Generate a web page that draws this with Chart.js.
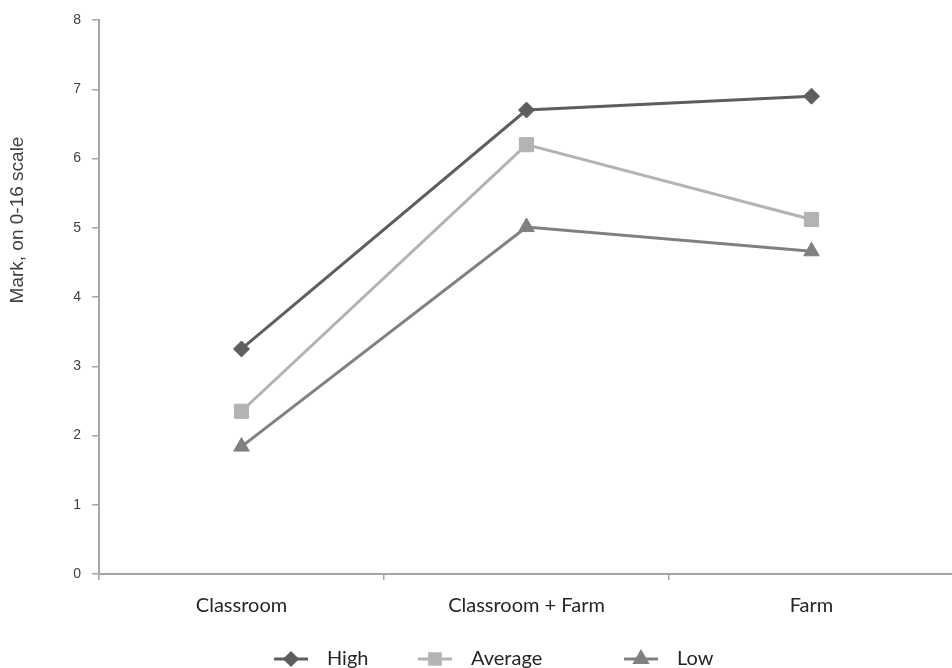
<!DOCTYPE html>
<html>
<head>
<meta charset="utf-8">
<script src="https://cdn.jsdelivr.net/npm/chart.js@4.4.0/dist/chart.umd.min.js"></script>
<style>
  html, body { margin: 0; padding: 0; background: #ffffff; overflow: hidden; }
  #wrap { width: 952px; height: 668px; position: relative; overflow: hidden; }
</style>
</head>
<body>
<div id="wrap"><canvas id="c" width="965" height="668"></canvas></div>
<script>
const categories = ['Classroom', 'Classroom + Farm', 'Farm'];
const seriesNames = ['High', 'Average', 'Low'];
const highValues = [3.25, 6.70, 6.90];
const averageValues = [2.35, 6.20, 5.12];
const lowValues = [1.84, 5.01, 4.66];
const yTicks = [0, 1, 2, 3, 4, 5, 6, 7, 8];
const yTitle = 'Mark, on 0-16 scale';

const colors = ['#5e5e5e', '#b3b3b3', '#808080'];
const markers = ['rectRot', 'rect', 'triangle'];
const radii = [8, 10, 9];
const legendRadii = [6, 7.5, 7];

const legendPlugin = {
  id: 'bottomLegend',
  afterDraw(chart) {
    const ctx = chart.ctx;
    const starts = [274, 418, 624];
    const y = 659;
    ctx.save();
    chart.data.datasets.forEach((ds, i) => {
      const x0 = starts[i];
      ctx.strokeStyle = ds.borderColor;
      ctx.lineWidth = 3;
      ctx.beginPath();
      ctx.moveTo(x0, y);
      ctx.lineTo(x0 + 34, y);
      ctx.stroke();
      ctx.fillStyle = ds.pointBackgroundColor;
      ctx.strokeStyle = ds.pointBorderColor;
      Chart.helpers.drawPoint(ctx, {
        pointStyle: ds.pointStyle,
        radius: legendRadii[i],
        rotation: 0,
        borderWidth: 1
      }, x0 + 17, y);
      ctx.fillStyle = '#262626';
      ctx.font = '20px Lato';
      ctx.textAlign = 'left';
      ctx.textBaseline = 'middle';
      ctx.fillText(ds.label, x0 + 53, y);
    });
    // y axis title
    ctx.translate(18, 220);
    ctx.rotate(-Math.PI / 2);
    ctx.fillStyle = '#404040';
    ctx.font = '19px "Liberation Sans"';
    ctx.textAlign = 'center';
    ctx.textBaseline = 'middle';
    ctx.fillText(yTitle, 0, 0);
    ctx.restore();
  }
};

const valueSets = [highValues, averageValues, lowValues];
const datasets = seriesNames.map((name, i) => ({
  label: name,
  data: valueSets[i],
  borderColor: colors[i],
  backgroundColor: colors[i],
  pointBackgroundColor: colors[i],
  pointBorderColor: colors[i],
  pointStyle: markers[i],
  pointRadius: radii[i],
  pointBorderWidth: 1,
  borderWidth: 3,
  tension: 0,
  fill: false
}));

new Chart(document.getElementById('c'), {
  type: 'line',
  data: { labels: categories, datasets },
  options: {
    responsive: false,
    animation: false,
    devicePixelRatio: 1,
    layout: { padding: { top: 20, right: 0, left: 0, bottom: 0 } },
    plugins: {
      legend: { display: false },
      tooltip: { enabled: false }
    },
    scales: {
      x: {
        type: 'category',
        offset: true,
        grid: {
          offset: true,
          drawOnChartArea: false,
          drawTicks: true,
          tickLength: 6,
          color: '#a6a6a6',
          lineWidth: 1.5
        },
        border: { color: '#a6a6a6', width: 2 },
        ticks: {
          color: '#262626',
          font: { family: 'Lato', size: 20 },
          padding: 14,
          maxRotation: 0
        },
        afterFit(scale) { scale.height = 94; }
      },
      y: {
        min: 0,
        max: 8,
        afterBuildTicks(scale) { scale.ticks = yTicks.map(v => ({ value: v })); },
        grid: {
          drawOnChartArea: false,
          drawTicks: true,
          tickLength: 7,
          color: '#a6a6a6',
          lineWidth: 1.5
        },
        border: { color: '#a6a6a6', width: 2 },
        ticks: {
          color: '#404040',
          font: { family: 'Liberation Sans', size: 14 },
          padding: 11
        },
        title: { display: false },
        afterFit(scale) { scale.width = 99; }
      }
    }
  },
  plugins: [legendPlugin]
});
</script>
</body>
</html>
